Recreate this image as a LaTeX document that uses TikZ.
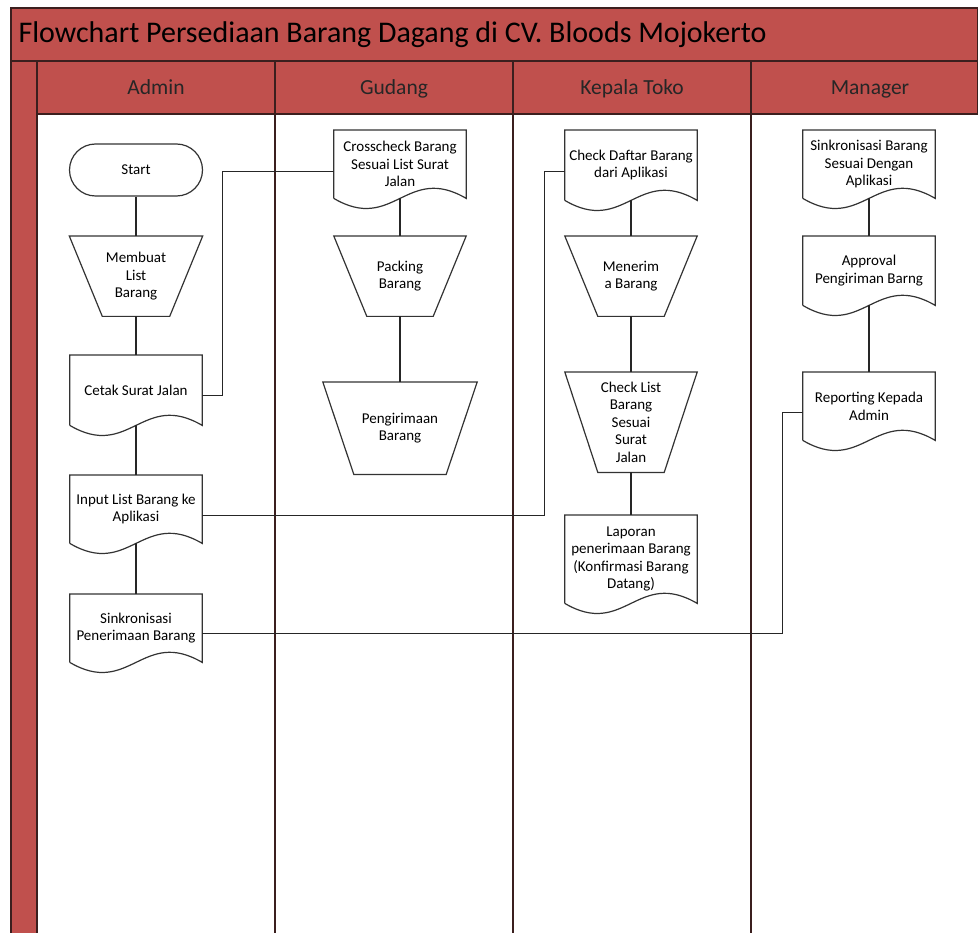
\documentclass[tikz,border=0pt]{standalone}
\usepackage{fontspec}
\setmainfont{Carlito}
\usetikzlibrary{calc}

\definecolor{laneRed}{HTML}{C0504D}
\definecolor{laneEdge}{HTML}{3B1F1E}
\definecolor{inkGray}{HTML}{333333}

\newcommand{\bodyfont}{\fontsize{15}{17.5}\selectfont}
\newcommand{\headfont}{\fontsize{21.5}{24}\selectfont}
\newcommand{\titlefont}{\fontsize{30}{32}\selectfont}

% document symbol with a wavy bottom edge
\newcommand{\docOutline}[1]{%
  \draw[shapeLine] (#1.south west) -- (#1.north west) -- (#1.north east) -- (#1.south east)
    .. controls ($(#1.south)+(6.6pt,35pt)$) and ($(#1.south)+(-6.6pt,-35pt)$) .. (#1.south west);}
% manual operation (wide at the top)
\newcommand{\manualOp}[2]{%
  \draw[shapeLine] (#1.north west) -- (#1.north east) -- ([xshift=-#2]#1.south east)
    -- ([xshift=#2]#1.south west) -- cycle;}

\begin{document}
\begin{tikzpicture}[x=1pt, y=-1pt,
  shapeLine/.style={draw=inkGray, line width=1.2pt},
  flowLine/.style={draw=black!85, line width=1.2pt},
  laneLine/.style={draw=laneEdge, line width=1.4pt},
  docbox/.style={minimum width=132pt, inner sep=2pt, align=center, font=\bodyfont, anchor=north},
  opbox/.style={inner sep=2pt, align=center, font=\bodyfont, anchor=north},
  termbox/.style={shapeLine, rounded corners=26pt, minimum width=133pt, minimum height=52pt, font=\bodyfont},
  headlabel/.style={font=\headfont, text=black!85, anchor=base}]
\useasboundingbox (0,0) rectangle (978,933);
\fill[white] (0,0) rectangle (978,933);

% Draw the pool and the lanes
\draw[laneLine, fill=laneRed] (11,8) rectangle (978,61);
\draw[laneLine, fill=laneRed] (37,61) rectangle (978,114);
\draw[laneLine, fill=laneRed] (11,61) rectangle (37,940);
\foreach \lx in {275,513,751}
  \draw[laneLine] (\lx,61) -- (\lx,940);

\node[anchor=base west, font=\titlefont] (title) at (15,43) {Flowchart Persediaan Barang Dagang di CV. Bloods Mojokerto};
\node[headlabel] (hAdmin) at (156,95) {Admin};
\node[headlabel] (hGudang) at (394,95) {Gudang};
\node[headlabel] (hKepala) at (632,95) {Kepala Toko};
\node[headlabel] (hManager) at (870,95) {Manager};

% Admin
\node[termbox] (start) at (136,170) {Start};
\node[opbox, minimum width=133pt, minimum height=80pt] (membuat) at (136,236) {Membuat\\List\\Barang};
\manualOp{membuat}{33pt}
\node[docbox, minimum height=70pt] (cetak) at (136,355) {Cetak Surat Jalan};
\docOutline{cetak}
\node[docbox, minimum height=68pt] (input) at (136,475) {Input List Barang ke\\Aplikasi};
\docOutline{input}
\node[docbox, minimum height=68pt] (sinkron) at (136,594) {Sinkronisasi\\Penerimaan Barang};
\docOutline{sinkron}

% Gudang
\node[docbox, minimum height=68pt] (cross) at (400,130) {Crosscheck Barang\\Sesuai List Surat\\Jalan};
\docOutline{cross}
\node[opbox, minimum width=132pt, minimum height=80pt] (packing) at (400,236) {Packing\\Barang};
\manualOp{packing}{33pt}
\node[opbox, minimum width=154pt, minimum height=92pt] (kirim) at (400,382) {Pengirimaan\\Barang};
\manualOp{kirim}{31pt}

% Kepala Toko
\node[docbox, minimum height=70pt] (daftar) at (631,130) {Check Daftar Barang\\dari Aplikasi};
\docOutline{daftar}
\node[opbox, minimum width=132pt, minimum height=80pt] (terima) at (631,236) {Menerim\\a Barang};
\manualOp{terima}{33pt}
\node[opbox, minimum width=132pt, minimum height=100pt] (ceklist) at (631,372) {Check List\\Barang\\Sesuai\\Surat\\Jalan};
\manualOp{ceklist}{33pt}
\node[docbox, minimum height=88pt] (laporan) at (631,515) {Laporan\\penerimaan Barang\\(Konfirmasi Barang\\Datang)};
\docOutline{laporan}

% Manager
\node[docbox, minimum height=68pt] (sinkBarang) at (869,130) {Sinkronisasi Barang\\Sesuai Dengan\\Aplikasi};
\docOutline{sinkBarang}
\node[docbox, minimum height=69pt] (approval) at (869,236) {Approval\\Pengiriman Barng};
\docOutline{approval}
\node[docbox, minimum height=68pt] (report) at (869,372) {Reporting Kepada\\Admin};
\docOutline{report}

% Draw the connectors
\draw[flowLine] (start.south) -- (membuat.north);
\draw[flowLine] (membuat.south) -- (cetak.north);
\draw[flowLine] (cetak.south) -- (input.north);
\draw[flowLine] (input.south) -- (sinkron.north);
\draw[flowLine] (cross.south) -- (packing.north);
\draw[flowLine] (packing.south) -- (kirim.north);
\draw[flowLine] (daftar.south) -- (terima.north);
\draw[flowLine] (terima.south) -- (ceklist.north);
\draw[flowLine] (ceklist.south) -- (laporan.north);
\draw[flowLine] (sinkBarang.south) -- (approval.north);
\draw[flowLine] (approval.south) -- (report.north);

\draw[flowLine] ([yshift=-5pt]cetak.east) -- ++(20,0) |- ([yshift=-7pt]cross.west);
\draw[flowLine] ([yshift=-6pt]input.east) -| ([xshift=-20pt,yshift=-6pt]daftar.west) -- ([yshift=-6pt]daftar.west);
\draw[flowLine] ([yshift=-5pt]sinkron.east) -| ([xshift=-20pt,yshift=-6pt]report.west) -- ([yshift=-6pt]report.west);
\end{tikzpicture}
\end{document}
